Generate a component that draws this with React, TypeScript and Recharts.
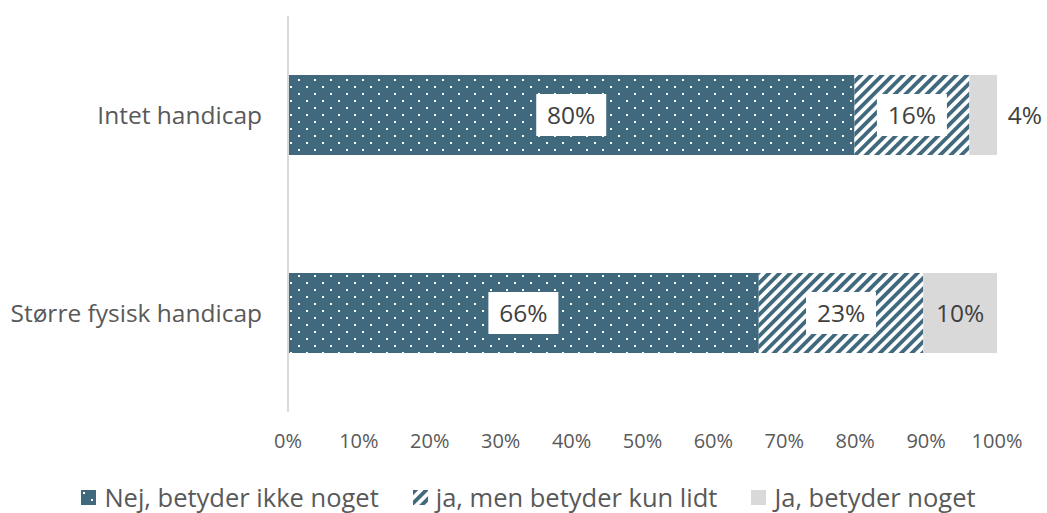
import React from 'react';
import { BarChart, Bar, XAxis, YAxis, Legend, LabelList } from 'recharts';

const categories = ['Intet handicap', 'Større fysisk handicap'];
const nejValues = [79.9, 66.4];
const lidtValues = [16.2, 23.2];
const nogetValues = [3.9, 10.4];
const seriesNames = ['Nej, betyder ikke noget', 'ja, men betyder kun lidt', 'Ja, betyder noget'];
const xTicks = [0, 10, 20, 30, 40, 50, 60, 70, 80, 90, 100];

const data = categories.map((name, i) => ({
  name,
  nej: nejValues[i],
  lidt: lidtValues[i],
  noget: nogetValues[i],
}));

const TEAL = '#41697E';
const GRAY = '#D9D9D9';
const FONT = '"Open Sans", sans-serif';

const makeLabel = (boxed: boolean) => (props: any) => {
  const { x, y, width, height, value } = props;
  const txt = `${Math.round(Number(value))}%`;
  const cy = y + height / 2;
  if (!boxed) {
    const outside = width < 40;
    const cx = outside ? x + width + 28 : x + width / 2;
    return (
      <text x={cx} y={cy} dy="0.36em" textAnchor="middle" fontSize={24.5} fontFamily={FONT} fill="#404040">
        {txt}
      </text>
    );
  }
  const cx = x + width / 2;
  const bw = 70;
  const bh = 42;
  return (
    <g>
      <rect x={cx - bw / 2} y={cy - bh / 2} width={bw} height={bh} fill="#FFFFFF" />
      <text x={cx} y={cy} dy="0.36em" textAnchor="middle" fontSize={24.5} fontFamily={FONT} fill="#404040">
        {txt}
      </text>
    </g>
  );
};

const fills = ['url(#dotPat)', 'url(#stripePat)', GRAY];

const renderLegend = () => (
  <div
    style={{
      display: 'flex',
      justifyContent: 'center',
      alignItems: 'center',
      height: 30,
      paddingLeft: 10,
      fontFamily: FONT,
      fontSize: 25.5,
      color: '#595959',
    }}
  >
    {seriesNames.map((n, i) => (
      <div key={n} style={{ display: 'flex', alignItems: 'center', marginRight: i < 2 ? 34 : 0 }}>
        <svg width={15} height={15} style={{ marginRight: 8 }}>
          <rect x={0} y={0} width={15} height={15} fill={fills[i]} />
        </svg>
        <span style={{ whiteSpace: 'nowrap', lineHeight: '30px' }}>{n}</span>
      </div>
    ))}
  </div>
);

export default function App() {
  return (
    <div style={{ position: 'absolute', left: 0, top: 0, width: 1047, height: 513, background: '#fff' }}>
      <svg width={0} height={0} style={{ position: 'absolute' }}>
        <defs>
          <pattern id="dotPat" patternUnits="userSpaceOnUse" width={16} height={14}>
            <rect x={0} y={0} width={16} height={14} fill={TEAL} />
            <rect x={2} y={2} width={2} height={2} fill="#FFFFFF" />
            <rect x={10} y={9} width={2} height={2} fill="#FFFFFF" />
          </pattern>
          <pattern id="stripePat" patternUnits="userSpaceOnUse" width={7.5} height={7.5} patternTransform="rotate(45)">
            <rect x={0} y={0} width={7.5} height={7.5} fill="#FFFFFF" />
            <rect x={0} y={0} width={3.8} height={7.5} fill={TEAL} />
          </pattern>
        </defs>
      </svg>
      <BarChart
        width={1047}
        height={513}
        data={data}
        layout="vertical"
        margin={{ top: 16, right: 50, left: 0, bottom: 31 }}
        style={{ fontFamily: FONT }}
      >
        <XAxis
          type="number"
          domain={[0, 100]}
          ticks={xTicks}
          tickFormatter={(v: number) => `${v}%`}
          axisLine={false}
          tickLine={false}
          tickSize={0}
          tickMargin={22}
          height={40}
          interval={0}
          tick={{ fontSize: 20, fill: '#595959', fontFamily: FONT }}
        />
        <YAxis
          type="category"
          dataKey="name"
          width={288}
          axisLine={{ stroke: GRAY, strokeWidth: 2 }}
          tickLine={false}
          tickSize={0}
          tickMargin={26}
          tick={{ fontSize: 24.5, fill: '#595959', fontFamily: FONT }}
        />
        <Legend
          verticalAlign="bottom"
          content={renderLegend}
          wrapperStyle={{ top: 482, bottom: 'auto', left: 0, width: 1047 }}
        />
        <Bar dataKey="nej" name={seriesNames[0]} stackId="a" fill="url(#dotPat)" barSize={80} isAnimationActive={false}>
          <LabelList dataKey="nej" content={makeLabel(true)} />
        </Bar>
        <Bar dataKey="lidt" name={seriesNames[1]} stackId="a" fill="url(#stripePat)" barSize={80} isAnimationActive={false}>
          <LabelList dataKey="lidt" content={makeLabel(true)} />
        </Bar>
        <Bar dataKey="noget" name={seriesNames[2]} stackId="a" fill={GRAY} barSize={80} isAnimationActive={false}>
          <LabelList dataKey="noget" content={makeLabel(false)} />
        </Bar>
      </BarChart>
    </div>
  );
}
